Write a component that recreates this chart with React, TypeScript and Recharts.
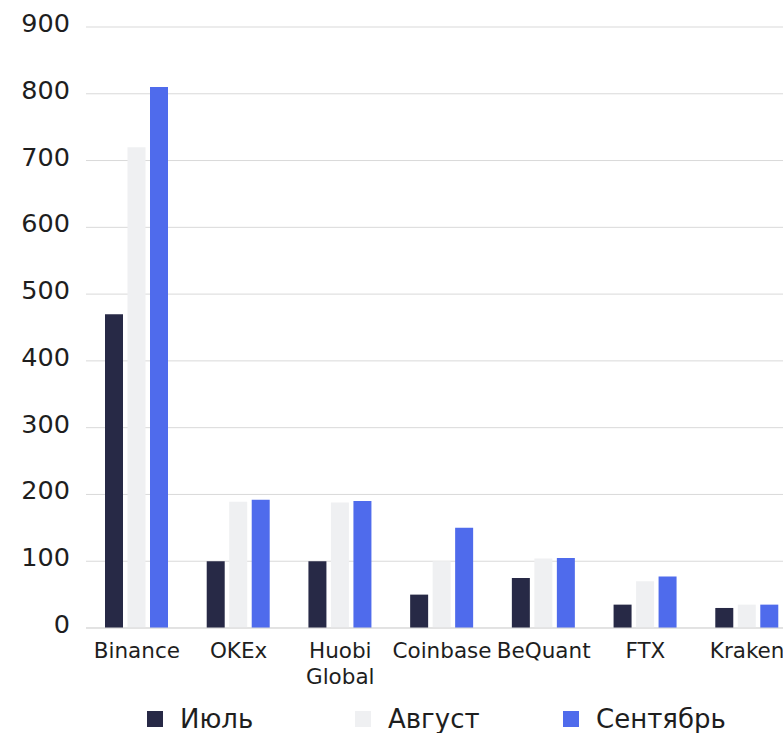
import React from "react";
import { BarChart, Bar, XAxis, YAxis, CartesianGrid, Legend } from "recharts";

const exchanges = ["Binance", "OKEx", "Huobi Global", "Coinbase", "BeQuant", "FTX", "Kraken"];
const july = [470, 100, 100, 50, 75, 35, 30];
const august = [720, 189, 188, 100, 104, 70, 35];
const september = [810, 192, 190, 150, 105, 77, 35];
const yTicks = [0, 100, 200, 300, 400, 500, 600, 700, 800, 900];

const seriesNames = ["Июль", "Август", "Сентябрь"];
const seriesKeys = ["july", "august", "september"];
const seriesColors = ["#272946", "#eff0f2", "#4f6bec"];

const data = exchanges.map((name, i) => ({
  name,
  july: july[i],
  august: august[i],
  september: september[i],
}));

const FONT = "'DejaVu Sans', sans-serif";

const XTick = (props: any) => {
  const { x, y, payload } = props;
  const words = String(payload.value).split(" ");
  return (
    <text x={x} y={y + 30} textAnchor="middle" fill="#1e1e1e" fontSize={21.5} fontFamily={FONT}>
      {words.map((w: string, i: number) => (
        <tspan key={i} x={x} dy={i === 0 ? 0 : 26}>
          {w}
        </tspan>
      ))}
    </text>
  );
};

const YTick = (props: any) => {
  const { x, y, payload } = props;
  return (
    <text x={x} y={y + 5} textAnchor="end" fill="#1e1e1e" fontSize={25.5} fontFamily={FONT}>
      {payload.value}
    </text>
  );
};

const LegendContent = () => (
  <div style={{ display: "flex", height: 28, alignItems: "center", paddingLeft: 147, fontFamily: FONT }}>
    {seriesNames.map((n, i) => (
      <div key={n} style={{ width: 208, display: "flex", alignItems: "center" }}>
        <span style={{ display: "inline-block", width: 16, height: 16, background: seriesColors[i], marginRight: 17 }} />
        <span style={{ fontSize: 26, color: "#1e1e1e", lineHeight: "28px" }}>{n}</span>
      </div>
    ))}
  </div>
);

export default function App() {
  return (
    <div style={{ position: "absolute", left: 0, top: 0, width: 783, height: 733, overflow: "hidden", background: "#fff" }}>
      <BarChart
        width={800}
        height={741}
        data={data}
        margin={{ top: 27, right: 2, left: 0, bottom: 8 }}
        barSize={18}
        barGap={4.5}
      >
        <CartesianGrid vertical={false} stroke="#d9d9d9" />
        <XAxis
          dataKey="name"
          height={77}
          tickSize={0}
          tickMargin={0}
          tickLine={false}
          axisLine={{ stroke: "#d9d9d9" }}
          tick={<XTick />}
          interval={0}
        />
        <YAxis
          width={86}
          domain={[0, 900]}
          ticks={yTicks}
          tickSize={0}
          tickMargin={16}
          tickLine={false}
          axisLine={false}
          tick={<YTick />}
          interval={0}
        />
        <Legend verticalAlign="bottom" wrapperStyle={{ left: 0, width: 800 }} content={<LegendContent />} />
        {seriesKeys.map((k, i) => (
          <Bar key={k} dataKey={k} name={seriesNames[i]} fill={seriesColors[i]} isAnimationActive={false} />
        ))}
      </BarChart>
    </div>
  );
}
